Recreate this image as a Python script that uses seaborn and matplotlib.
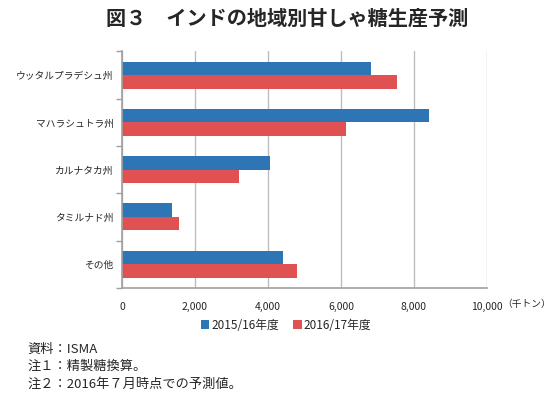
import pandas as pd
import matplotlib
matplotlib.use('Agg')
import matplotlib.pyplot as plt
import seaborn as sns
from matplotlib.ticker import FuncFormatter, FixedLocator

# ── données ───────────────────────────────────────────────────────────────
regions = ['ウッタルプラデシュ州', 'マハラシュトラ州', 'カルナタカ州', 'タミルナド州', 'その他']
years = ['2015/16年度', '2016/17年度']
prod_1516 = [6820, 8410, 4050, 1380, 4400]
prod_1617 = [7540, 6140, 3220, 1560, 4790]

df = pd.DataFrame({
    'region': regions * 2,
    'year': [years[0]] * len(regions) + [years[1]] * len(regions),
    'value': prod_1516 + prod_1617,
})

sns.set_theme(style='white')
plt.rcParams['font.family'] = ['Noto Sans CJK JP', 'DejaVu Sans']

fig = plt.figure(figsize=(5.57, 3.96), dpi=100)
ax = fig.add_axes([0.219, 0.273, 0.655, 0.597])

sns.barplot(data=df, y='region', x='value', hue='year', orient='h',
            palette=['#2e75b6', '#e05252'], width=0.57, gap=0,
            saturation=1, linewidth=0, ax=ax, legend=True)

ax.set_xlim(0, 10000)
ax.set_ylim(len(regions) - 0.5, -0.5)
ax.set_xticks(range(0, 10001, 2000))
ax.xaxis.set_major_formatter(FuncFormatter(lambda v, p: f'{int(v):,}'))
ax.grid(axis='x', color='#bdbdbd', linewidth=1)
ax.set_axisbelow(True)
ax.set_xlabel('')
ax.set_ylabel('')

for s in ['top', 'right']:
    ax.spines[s].set_visible(False)
for s in ['left', 'bottom']:
    ax.spines[s].set_color('#a0a0a0')
    ax.spines[s].set_linewidth(1.2)

ax.tick_params(axis='x', length=4, color='#a0a0a0', labelsize=7.5, pad=6)
ax.tick_params(axis='y', length=0, labelsize=7, pad=6)
ax.yaxis.set_minor_locator(FixedLocator([i - 0.5 for i in range(len(regions) + 1)]))
ax.tick_params(axis='y', which='minor', length=4, color='#a0a0a0', left=True)

# unité à droite des graduations
fig.text(0.99, 1 - 304 / 396, '（千トン）', fontsize=7, va='center', ha='right')

ax.legend(loc='upper center', bbox_to_anchor=(0.45, -0.085), ncol=2,
          frameon=False, fontsize=8.5, handlelength=0.7, handleheight=0.7,
          handletextpad=0.2, columnspacing=1.2)

fig.text(0.515, 0.955, '図３　インドの地域別甘しゃ糖生産予測', ha='center',
         va='center', fontsize=14.5, fontweight='bold')

notes = ['資料：ISMA', '注１：精製糖換算。', '注２：2016年７月時点での予測値。']
for i, n in enumerate(notes):
    fig.text(0.05, 0.118 - i * 0.044, n, fontsize=9.5, va='center')

fig.savefig('out.png', dpi=100)
